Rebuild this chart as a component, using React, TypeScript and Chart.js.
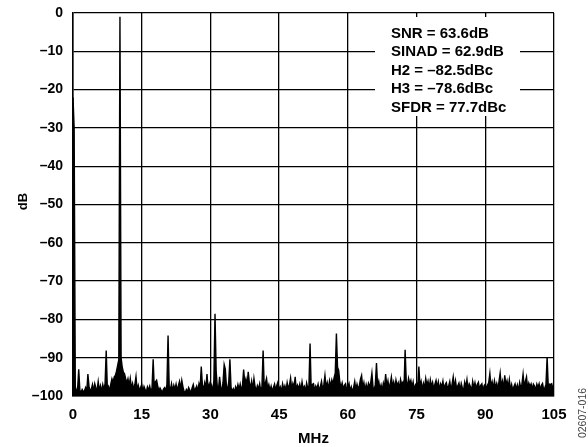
import React, { useEffect, useRef } from "react";
import { Chart, registerables } from "chart.js";

Chart.register(...registerables);

// Frequency spacing of the spectrum bins (MHz)
const FREQ_STEP_MHZ = 0.25;

// FFT magnitude (dB), one value per 0.25 MHz bin, 0 … 105 MHz
const spectrumDb: number[] = [
  // 0 – 4.75 MHz
  -22, -30, -97.5, -98.8, -98.2, -93, -98.5, -99, -98.3, -98.9, -98.6, -97.8, -98.9, -94.3, -97.5, -98.7, -98.2, -97.0, -98.8, -96.8,
  // 5 – 9.75
  -97.9, -98.5, -96.2, -98.6, -97.3, -98.9, -97.0, -98.4, -96.8, -88.1, -98.2, -97.5, -98.7, -96.9, -95.5, -96.5, -95.0, -94.6, -93.5, -92.0,
  // 10 – 14.75
  -90.5, -1.0, -90.0, -92.5, -93.8, -94.2, -95.5, -96.6, -95.5, -97.2, -95.4, -98.0, -96.7, -98.3, -97.0, -94.9, -98.4, -97.2, -98.6, -97.8,
  // 15 – 19.75
  -97.0, -98.8, -97.5, -98.3, -99.0, -97.6, -98.4, -97.4, -98.9, -97.9, -90.4, -98.1, -96.3, -95.9, -97.4, -98.7, -97.9, -98.5, -99.1, -98.2,
  // 20 – 24.75
  -97.8, -98.6, -97.1, -84.2, -97.5, -98.4, -96.8, -98.7, -97.2, -98.3, -96.9, -98.6, -97.3, -96.2, -98.1, -95.9, -97.6, -98.8, -99.1, -98.3,
  // 25 – 29.75
  -98.9, -97.8, -98.5, -99.0, -97.9, -97.0, -98.6, -98.1, -97.4, -98.8, -96.8, -97.9, -92.3, -97.2, -98.4, -96.5, -97.8, -94.3, -98.2, -96.9,
  // 30 – 34.75
  -98.5, -97.3, -98.9, -96.0, -78.5, -93.5, -97.6, -98.4, -95.0, -97.8, -98.6, -96.4, -91.8, -93.0, -97.5, -98.2, -96.3, -90.4, -97.7, -98.8,
  // 35 – 39.75
  -98.1, -99.0, -97.6, -98.5, -97.0, -98.3, -96.9, -98.6, -97.2, -93.1, -96.7, -95.5, -97.4, -93.7, -96.5, -97.9, -96.1, -98.4, -95.4, -97.6,
  // 40 – 44.75
  -98.7, -97.3, -98.2, -96.8, -98.9, -97.5, -88.1, -97.9, -96.6, -95.4, -98.1, -97.0, -98.6, -97.4, -98.8, -97.8, -96.9, -98.5, -97.2, -96.3,
  // 45 – 49.75
  -98.4, -97.6, -98.9, -96.8, -98.2, -97.3, -98.7, -96.5, -98.0, -97.1, -95.3, -98.3, -96.7, -97.8, -95.0, -98.5, -97.2, -98.1, -96.9, -98.6,
  // 50 – 54.75
  -96.3, -98.2, -97.5, -98.8, -96.6, -98.0, -97.3, -86.3, -98.4, -97.0, -96.8, -98.6, -97.4, -98.1, -96.9, -98.7, -97.5, -96.2, -98.3, -97.1,
  // 55 – 59.75
  -94.6, -97.8, -96.5, -98.2, -96.0, -97.5, -95.8, -96.9, -95.2, -94.0, -83.7, -92.5, -93.3, -96.4, -97.8, -96.6, -98.3, -97.2, -96.8, -98.5,
  // 60 – 64.75
  -97.5, -96.7, -98.7, -97.6, -98.9, -97.8, -96.2, -98.4, -96.9, -98.1, -97.3, -95.6, -94.6, -97.9, -96.5, -98.6, -97.0, -98.3, -96.7, -97.6,
  // 65 – 69.75
  -96.4, -94.0, -97.7, -98.5, -96.9, -91.4, -97.6, -96.2, -98.2, -97.1, -98.6, -96.6, -97.8, -94.3, -97.4, -96.0, -98.1, -96.8, -95.0, -97.5,
  // 70 – 74.75
  -96.3, -98.0, -95.8, -97.3, -96.5, -98.2, -95.7, -97.0, -96.4, -98.4, -87.9, -96.1, -97.6, -95.4, -96.8, -95.9, -97.7, -96.3, -98.5, -97.1,
  // 75 – 79.75
  -96.6, -98.1, -92.3, -97.4, -96.2, -98.3, -96.7, -97.9, -95.4, -97.2, -96.1, -98.0, -95.8, -97.5, -96.4, -98.2, -96.9, -95.9, -97.7, -96.3,
  // 80 – 84.75
  -98.4, -96.8, -97.6, -96.1, -98.3, -97.0, -96.5, -98.1, -97.4, -96.2, -98.6, -96.9, -95.0, -97.8, -96.0, -98.2, -97.3, -96.6, -98.5, -96.7,
  // 85 – 89.75
  -97.9, -98.6, -96.4, -97.7, -95.7, -98.3, -96.8, -97.5, -98.8, -96.2, -97.9, -96.5, -98.1, -97.0, -96.4, -98.4, -97.2, -96.8, -98.6, -97.3,
  // 90 – 94.75
  -96.9, -98.2, -97.1, -96.5, -94.1, -97.6, -96.3, -98.0, -96.0, -97.8, -96.7, -98.3, -96.2, -94.0, -97.4, -96.1, -98.1, -94.6, -97.2, -96.0,
  // 95 – 99.75
  -97.8, -95.7, -98.4, -97.0, -98.6, -97.5, -96.8, -98.2, -97.1, -98.7, -96.5, -97.9, -96.9, -94.3, -97.6, -96.2, -95.0, -98.1, -96.6, -97.5,
  // 100 – 104.75
  -96.8, -98.3, -96.9, -97.4, -98.6, -96.9, -97.8, -96.8, -98.5, -97.2, -96.7, -98.4, -97.9, -96.9, -89.8, -97.5, -96.9, -97.0, -96.8, -98.0,
  // 105
  -97.0,
];

const xMinMHz = 0;
const xMaxMHz = 105;
const xStepMHz = 15;
const yMinDb = -100;
const yMaxDb = 0;
const yStepDb = 10;

const statsLines = [
  "SNR = 63.6dB",
  "SINAD = 62.9dB",
  "H2 = \u201382.5dBc",
  "H3 = \u201378.6dBc",
  "SFDR = 77.7dBc",
];
const xTitle = "MHz";
const yTitle = "dB";
const figureId = "02607-016";

const FONT = "'Liberation Sans', Arial, Helvetica, sans-serif";

const overlayPlugin = {
  id: "overlay",
  afterDraw(chart: any) {
    const { ctx, chartArea } = chart;
    ctx.save();

    // stats box (white background over grid)
    ctx.fillStyle = "#ffffff";
    ctx.fillRect(375, 17, 145, 99);
    ctx.fillStyle = "#000000";
    ctx.font = `bold 15px ${FONT}`;
    ctx.textAlign = "left";
    ctx.textBaseline = "middle";
    statsLines.forEach((t, i) => {
      ctx.fillText(t, 391, 33.5 + i * 18.5);
    });

    // y-axis title
    ctx.save();
    ctx.translate(23, (chartArea.top + chartArea.bottom) / 2 - 3);
    ctx.rotate(-Math.PI / 2);
    ctx.font = `bold 13px ${FONT}`;
    ctx.textAlign = "center";
    ctx.textBaseline = "middle";
    ctx.fillText(yTitle, 0, 0);
    ctx.restore();

    // x-axis title
    ctx.font = `bold 15px ${FONT}`;
    ctx.textAlign = "center";
    ctx.textBaseline = "middle";
    ctx.fillText(xTitle, (chartArea.left + chartArea.right) / 2, 439);

    // figure id
    ctx.save();
    ctx.translate(583.5, 413);
    ctx.rotate(-Math.PI / 2);
    ctx.font = `10.5px ${FONT}`;
    ctx.fillStyle = "#444444";
    ctx.textAlign = "center";
    ctx.textBaseline = "middle";
    ctx.fillText(figureId, 0, 0);
    ctx.restore();

    ctx.restore();
  },
};

export default function App() {
  const canvasRef = useRef<HTMLCanvasElement | null>(null);

  useEffect(() => {
    const canvas = canvasRef.current;
    if (!canvas) return;
    const points = spectrumDb.map((y, i) => ({ x: i * FREQ_STEP_MHZ, y }));

    const chart = new Chart(canvas, {
      type: "line",
      data: {
        datasets: [
          {
            data: points,
            borderColor: "#000000",
            backgroundColor: "#000000",
            borderWidth: 1.4,
            fill: "start",
            pointRadius: 0,
            tension: 0,
          },
        ],
      },
      options: {
        animation: false,
        responsive: false,
        devicePixelRatio: 1,
        layout: { padding: { top: 13, right: 34, left: 0, bottom: 0 } },
        plugins: {
          legend: { display: false },
          tooltip: { enabled: false },
        },
        scales: {
          x: {
            type: "linear",
            min: xMinMHz,
            max: xMaxMHz,
            afterFit: (s: any) => {
              s.height = 51;
              s.paddingLeft = 0;
              s.paddingRight = 0;
            },
            ticks: {
              stepSize: xStepMHz,
              autoSkip: false,
              color: "#000000",
              padding: 10,
              maxRotation: 0,
              font: { family: FONT, size: 15, weight: "bold" },
            },
            grid: { color: "#000000", lineWidth: 1.3, drawTicks: false },
            border: { color: "#000000", width: 1.5 },
          },
          y: {
            type: "linear",
            min: yMinDb,
            max: yMaxDb,
            afterFit: (s: any) => {
              s.width = 73;
              s.paddingTop = 0;
              s.paddingBottom = 0;
            },
            ticks: {
              stepSize: yStepDb,
              autoSkip: false,
              color: "#000000",
              padding: 10,
              font: { family: FONT, size: 14, weight: "bold" },
              callback: (v: any) => (Number(v) === 0 ? "0" : "\u2013" + Math.abs(Number(v))),
            },
            grid: { color: "#000000", lineWidth: 1.3, drawTicks: false },
            border: { color: "#000000", width: 1.5 },
          },
        },
      },
      plugins: [overlayPlugin],
    });

    return () => {
      chart.destroy();
    };
  }, []);

  return (
    <div style={{ position: "fixed", left: 0, top: 0, width: 588, height: 447, background: "#fff" }}>
      <canvas ref={canvasRef} width={588} height={447} style={{ width: 588, height: 447, display: "block" }} />
    </div>
  );
}
